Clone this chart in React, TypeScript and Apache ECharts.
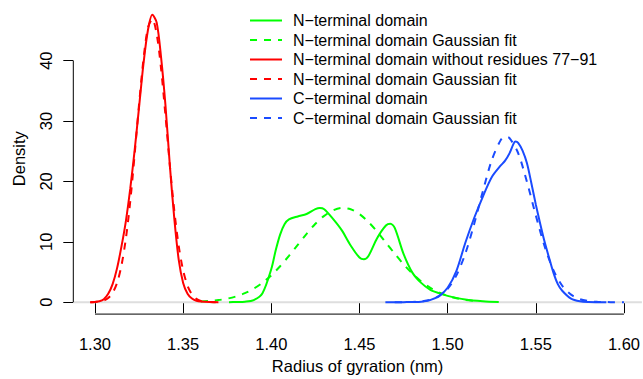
import React, { useEffect, useRef } from "react";
import * as echarts from "echarts";

// ---- data ----
const redSolidX = [1.2972, 1.3, 1.3025, 1.305, 1.3075, 1.31, 1.3125, 1.315, 1.3175, 1.32, 1.3225, 1.325, 1.3275, 1.33, 1.3325, 1.335, 1.3375, 1.34, 1.3425, 1.345, 1.3475, 1.35, 1.3525, 1.355, 1.3575, 1.36, 1.365, 1.37];
const redSolidY = [0, 0.05, 0.15, 0.5, 1.4, 3.0, 5.6, 9.2, 13.4, 18.8, 25.2, 32.3, 39.5, 45.0, 47.6, 46.3, 40.5, 32.5, 22.5, 13.8, 7.0, 3.2, 1.4, 0.6, 0.25, 0.1, 0.02, 0];

const redFitX = [1.2975, 1.3, 1.3025, 1.305, 1.3075, 1.31, 1.3125, 1.315, 1.3175, 1.32, 1.3225, 1.325, 1.3275, 1.33, 1.3325, 1.335, 1.3375, 1.34, 1.3425, 1.345, 1.3475, 1.35, 1.3525, 1.355, 1.3575, 1.36, 1.3625, 1.365, 1.3675, 1.37];
const redFitY = [0.01, 0.04, 0.11, 0.28, 0.69, 1.55, 3.19, 6.05, 10.5, 16.7, 24.5, 32.8, 40.2, 45.4, 46.9, 44.4, 38.6, 30.8, 22.5, 15.1, 9.3, 5.25, 2.72, 1.29, 0.56, 0.22, 0.08, 0.03, 0.01, 0];

const greenSolidX = [1.376, 1.38, 1.385, 1.39, 1.395, 1.4, 1.4025, 1.405, 1.4075, 1.41, 1.415, 1.42, 1.425, 1.4275, 1.43, 1.435, 1.44, 1.445, 1.45, 1.4525, 1.455, 1.46, 1.465, 1.4675, 1.47, 1.475, 1.48, 1.485, 1.49, 1.495, 1.5, 1.51, 1.52, 1.529];
const greenSolidY = [0, 0.03, 0.08, 0.35, 1.5, 5.5, 8.6, 11.2, 12.9, 13.7, 14.2, 14.6, 15.4, 15.6, 15.4, 13.8, 11.9, 9.4, 7.4, 7.1, 7.6, 10.6, 12.7, 13.0, 12.3, 8.0, 4.9, 3.2, 2.1, 1.5, 1.05, 0.45, 0.15, 0.02];

const greenFitX = [1.36, 1.365, 1.37, 1.375, 1.38, 1.385, 1.39, 1.395, 1.4, 1.405, 1.41, 1.415, 1.42, 1.425, 1.43, 1.435, 1.44, 1.445, 1.45, 1.455, 1.46, 1.465, 1.47, 1.475, 1.48, 1.485, 1.49, 1.495, 1.5, 1.505, 1.51, 1.515];
const greenFitY = [0.11, 0.2, 0.35, 0.59, 0.96, 1.49, 2.23, 3.22, 4.46, 5.96, 7.67, 9.5, 11.3, 13.0, 14.3, 15.2, 15.6, 15.4, 14.6, 13.3, 11.7, 9.87, 8.03, 6.29, 4.74, 3.44, 2.41, 1.62, 1.05, 0.65, 0.39, 0.23];

const blueSolidX = [1.4647, 1.475, 1.485, 1.49, 1.495, 1.5, 1.505, 1.51, 1.515, 1.52, 1.525, 1.53, 1.5325, 1.535, 1.5375, 1.5385, 1.54, 1.5425, 1.545, 1.5475, 1.55, 1.5525, 1.555, 1.5575, 1.56, 1.5625, 1.565, 1.57, 1.575, 1.58, 1.59];
const blueSolidY = [0, 0.01, 0.08, 0.35, 1.0, 2.4, 5.2, 9.8, 13.9, 17.5, 20.7, 22.6, 23.4, 24.6, 26.3, 26.6, 26.4, 25.1, 23.0, 19.7, 16.2, 13.0, 10.0, 7.4, 4.9, 3.0, 1.9, 0.6, 0.15, 0.04, 0];

const blueFitX = [1.47, 1.475, 1.48, 1.485, 1.49, 1.495, 1.5, 1.505, 1.51, 1.515, 1.52, 1.525, 1.53, 1.5325, 1.535, 1.54, 1.545, 1.55, 1.555, 1.56, 1.565, 1.57, 1.575, 1.58, 1.585, 1.59, 1.595, 1.6];
const blueFitY = [0.003, 0.012, 0.043, 0.14, 0.39, 0.98, 2.21, 4.46, 8.02, 12.9, 18.4, 23.5, 26.8, 27.4, 27.2, 24.7, 19.9, 14.4, 9.26, 5.31, 2.72, 1.25, 0.51, 0.18, 0.06, 0.02, 0.005, 0.001];

const xTicks = [1.3, 1.35, 1.4, 1.45, 1.5, 1.55, 1.6];
const yTicks = [0, 10, 20, 30, 40];

const legendLabels = [
  "N\u2212terminal domain",
  "N\u2212terminal domain Gaussian fit",
  "N\u2212terminal domain without residues 77\u221291",
  "N\u2212terminal domain Gaussian fit",
  "C\u2212terminal domain",
  "C\u2212terminal domain Gaussian fit",
];

const GREEN = "#00ff00";
const RED = "#ff0000";
const BLUE = "#1a4bff";
const legendColors = [GREEN, GREEN, RED, RED, BLUE, BLUE];
const legendDashed = [false, true, false, true, false, true];

const X_MIN = 1.2877;
const X_MAX = 1.6102;
const Y_MIN = -1.97;
const Y_MAX = 49.5;
const FONT = "'Liberation Sans', Arial, Helvetica, sans-serif";
const FS = 16.5;
const LEGEND_FS = 16;
const DASH = [7, 7];

const zip = (xs: number[], ys: number[]) => xs.map((x, i) => [x, ys[i]]);

function curve(name: string, xs: number[], ys: number[], color: string, dashed: boolean) {
  return {
    type: "line",
    name,
    data: zip(xs, ys),
    showSymbol: false,
    symbol: "none",
    smooth: 0.3,
    silent: true,
    lineStyle: { color, width: 2, type: dashed ? DASH : "solid" },
    z: 3,
  };
}

export default function App() {
  const ref = useRef<HTMLDivElement>(null);
  useEffect(() => {
    if (!ref.current) return;
    const chart = echarts.init(ref.current, undefined, { renderer: "svg" });

    const legendGraphics: any[] = [];
    const rowTop = 20.5;
    const rowStep = 19.5;
    legendLabels.forEach((label, i) => {
      const y = rowTop + i * rowStep;
      legendGraphics.push({
        type: "line",
        shape: { x1: 250, y1: y, x2: 282, y2: y },
        style: { stroke: legendColors[i], lineWidth: 2, lineDash: legendDashed[i] ? DASH : null },
        silent: true,
      });
      legendGraphics.push({
        type: "text",
        x: 293,
        y,
        style: {
          text: label,
          fill: "#000",
          font: `${LEGEND_FS}px ${FONT}`,
          verticalAlign: "middle",
          align: "left",
        },
        silent: true,
      });
    });

    const option: any = {
      animation: false,
      grid: { left: 73.3, right: 0, top: 3.3, bottom: 61.7, containLabel: false },
      xAxis: {
        type: "value",
        min: X_MIN,
        max: X_MAX,
        axisLine: { show: false },
        splitLine: { show: false },
        axisTick: { show: true, customValues: xTicks, length: 11, lineStyle: { color: "#000", width: 1 } },
        axisLabel: {
          customValues: xTicks,
          formatter: (v: number) => v.toFixed(2),
          margin: 21,
          fontSize: FS,
          fontFamily: FONT,
          color: "#000",
        },
        name: "Radius of gyration (nm)",
        nameLocation: "middle",
        nameGap: 41,
        nameTextStyle: { fontSize: FS, fontFamily: FONT, color: "#000" },
      },
      yAxis: {
        type: "value",
        min: Y_MIN,
        max: Y_MAX,
        axisLine: { show: false },
        splitLine: { show: false },
        axisTick: { show: true, customValues: yTicks, length: 10, lineStyle: { color: "#000", width: 1 } },
        axisLabel: {
          customValues: yTicks,
          rotate: 90,
          margin: 19,
          fontSize: FS,
          fontFamily: FONT,
          color: "#000",
        },
        name: "Density",
        nameLocation: "middle",
        nameGap: 46,
        nameTextStyle: { fontSize: FS, fontFamily: FONT, color: "#000" },
      },
      graphic: legendGraphics,
      series: [
        {
          type: "line",
          name: "zero",
          data: [[X_MIN, 0], [X_MAX, 0]],
          showSymbol: false,
          symbol: "none",
          silent: true,
          lineStyle: { color: "#dedede", width: 2 },
          z: 1,
        },
        {
          type: "line",
          name: "xaxisline",
          data: [[xTicks[0], Y_MIN], [xTicks[xTicks.length - 1], Y_MIN]],
          showSymbol: false,
          symbol: "none",
          silent: true,
          clip: false,
          lineStyle: { color: "#000", width: 1 },
          z: 2,
        },
        {
          type: "line",
          name: "yaxisline",
          data: [[X_MIN, yTicks[0]], [X_MIN, yTicks[yTicks.length - 1]]],
          showSymbol: false,
          symbol: "none",
          silent: true,
          clip: false,
          lineStyle: { color: "#000", width: 1 },
          z: 2,
        },
        curve("N-terminal domain", greenSolidX, greenSolidY, GREEN, false),
        curve("N-terminal domain Gaussian fit", greenFitX, greenFitY, GREEN, true),
        curve("N-terminal domain without residues 77-91", redSolidX, redSolidY, RED, false),
        curve("N-terminal domain without residues Gaussian fit", redFitX, redFitY, RED, true),
        curve("C-terminal domain", blueSolidX, blueSolidY, BLUE, false),
        curve("C-terminal domain Gaussian fit", blueFitX, blueFitY, BLUE, true),
      ],
    };
    chart.setOption(option);
    return () => chart.dispose();
  }, []);

  return (
    <div
      ref={ref}
      style={{ position: "fixed", left: 0, top: 0, width: 643, height: 379, background: "#fff" }}
    />
  );
}
